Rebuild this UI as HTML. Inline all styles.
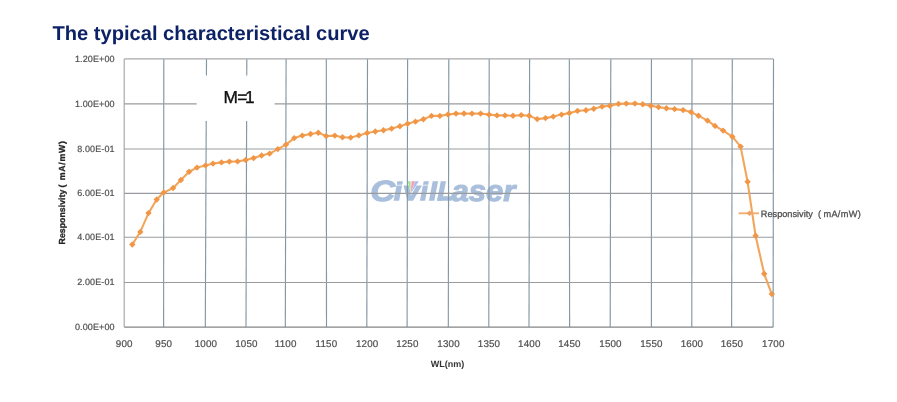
<!DOCTYPE html>
<html><head><meta charset="utf-8"><style>
html,body{margin:0;padding:0;background:#fff;}
body{width:897px;height:402px;overflow:hidden;position:relative;}
svg{position:absolute;left:0;top:0;font-family:"Liberation Sans",sans-serif;text-rendering:geometricPrecision;}
</style></head><body>
<svg width="897" height="402" viewBox="0 0 897 402">
<g style="mix-blend-mode:multiply"><text transform="translate(370.2,200.7) scale(1.17,1)" font-size="29.5" font-weight="bold" font-style="italic" fill="#a9bfdc" stroke="#a9bfdc" stroke-width="1.0">C</text><path d="M393.6,200.7 L399.1,200.7 L402.04,185.6 L396.54,185.6Z" fill="#a9bfdc"/><path d="M396.7,184.8 L402.2,184.8 L402.9,181.2 L397.4,181.2Z" fill="#a9bfdc"/><path d="M403.5,185.4 L409,185.4 L411,195.5 L416.5,185.4 L422,185.4 L413,200.7 L407.5,200.7Z" fill="#a9bfdc"/><path d="M407.7,181.2 L410.6,181.2 L410.6,193 Z" fill="#9fe39a"/><path d="M411.5,181.2 L415.2,181.2 L410.9,193 Z" fill="#f7a0a8"/><path d="M415.4,181.2 L418.8,181.2 L411.2,193 Z" fill="#a8b8f8"/><path d="M419.9,200.7 L425.1,200.7 L428.04,185.6 L422.84,185.6Z" fill="#a9bfdc"/><path d="M423.0,184.8 L428.2,184.8 L428.9,181.2 L423.7,181.2Z" fill="#a9bfdc"/><path d="M428.9,200.7 L434.3,200.7 L438.1,181.2 L432.7,181.2Z" fill="#a9bfdc"/><path d="M437.0,200.7 L442.2,200.7 L446.0,181.2 L440.8,181.2Z" fill="#a9bfdc"/><path d="M437.1,200.7 L451.6,200.7 L452.5,196.2 L438,196.2Z" fill="#a9bfdc"/><text transform="translate(451.5,200.7) scale(1.05,1)" font-size="29.5" font-weight="bold" font-style="italic" fill="#a9bfdc" stroke="#a9bfdc" stroke-width="1.1">aser</text></g>
<line x1="124.2" y1="58.9" x2="124.2" y2="327.1" stroke="#a3a6aa" stroke-width="1.15"/>
<line x1="163.8" y1="58.9" x2="163.6" y2="327.1" stroke="#8397a5" stroke-width="1.15"/>
<line x1="206.5" y1="58.9" x2="205.3" y2="327.1" stroke="#8397a5" stroke-width="1.15"/>
<line x1="246.8" y1="58.9" x2="246.0" y2="327.1" stroke="#8397a5" stroke-width="1.15"/>
<line x1="286.1" y1="58.9" x2="285.3" y2="327.1" stroke="#8397a5" stroke-width="1.15"/>
<line x1="326.3" y1="58.9" x2="326.5" y2="327.1" stroke="#8397a5" stroke-width="1.15"/>
<line x1="367.5" y1="58.9" x2="366.8" y2="327.1" stroke="#8397a5" stroke-width="1.15"/>
<line x1="407.6" y1="58.9" x2="407.1" y2="327.1" stroke="#8397a5" stroke-width="1.15"/>
<line x1="448.8" y1="58.9" x2="448.3" y2="327.1" stroke="#8397a5" stroke-width="1.15"/>
<line x1="489.2" y1="58.9" x2="488.8" y2="327.1" stroke="#8397a5" stroke-width="1.15"/>
<line x1="529.6" y1="58.9" x2="529.0" y2="327.1" stroke="#8397a5" stroke-width="1.15"/>
<line x1="569.3" y1="58.9" x2="569.6" y2="327.1" stroke="#8397a5" stroke-width="1.15"/>
<line x1="610.8" y1="58.9" x2="610.2" y2="327.1" stroke="#8397a5" stroke-width="1.15"/>
<line x1="651.4" y1="58.9" x2="651.4" y2="327.1" stroke="#8397a5" stroke-width="1.15"/>
<line x1="692.0" y1="58.9" x2="691.8" y2="327.1" stroke="#8397a5" stroke-width="1.15"/>
<line x1="732.3" y1="58.9" x2="731.6" y2="327.1" stroke="#8397a5" stroke-width="1.15"/>
<line x1="773.5" y1="58.9" x2="773.1" y2="327.1" stroke="#8397a5" stroke-width="1.15"/>
<line x1="124.2" y1="58.9" x2="773.3" y2="58.9" stroke="#a8a8a8" stroke-width="1.15"/>
<line x1="124.2" y1="103.8" x2="773.3" y2="103.8" stroke="#999b9e" stroke-width="1.15"/>
<line x1="124.2" y1="149.0" x2="773.3" y2="149.0" stroke="#999b9e" stroke-width="1.15"/>
<line x1="124.2" y1="193.4" x2="773.3" y2="193.4" stroke="#999b9e" stroke-width="1.15"/>
<line x1="124.2" y1="237.2" x2="773.3" y2="237.2" stroke="#999b9e" stroke-width="1.15"/>
<line x1="124.2" y1="282.5" x2="773.3" y2="282.5" stroke="#999b9e" stroke-width="1.15"/>
<line x1="124.2" y1="327.1" x2="773.3" y2="327.1" stroke="#858585" stroke-width="1.15"/>
<rect x="196.7" y="75.5" width="77.9" height="45.5" fill="#fff"/>
<text y="102.7" font-size="17.3" fill="#111" stroke="#111" stroke-width="0.35"><tspan x="223.6">M</tspan><tspan x="237.3">=</tspan><tspan x="244.9">1</tspan></text>
<path d="M132.3,244.5 L140.3,231.9 L148.5,213.1 L156.7,199.5 L163.7,192.6 L173.1,188 L180.9,180 L189.1,171.8 L197,167.6 L205.5,165.4 L213,163.6 L221.5,162.4 L229.4,161.6 L237.6,161.4 L245.7,160 L253.6,158.1 L261.6,155.5 L269.6,153.6 L277.8,149.1 L286,144.6 L294.2,138.1 L302.3,135.6 L310.5,134.0 L318.3,132.8 L326.2,136.0 L334.8,135.6 L342.5,137.3 L350.7,137.6 L358.8,135.4 L367.1,133.0 L375.3,131.5 L383.5,130.3 L391.6,128.6 L399.9,126.3 L407.6,123.7 L415.5,121.6 L423.4,119.2 L431.5,115.9 L439.9,115.9 L448,114.5 L456,113.6 L464,113.5 L472,113.6 L480.6,113.6 L489,114.6 L497,115.4 L505,115.4 L513,115.7 L521.2,115.1 L529.1,115.7 L537.2,119.1 L545.5,118.1 L553.3,116.6 L561.5,114.6 L569.4,113.1 L577.5,110.9 L586,110.2 L593.7,108.7 L602.1,106.6 L609.9,105.7 L618.5,103.9 L626.3,103.6 L634.9,103.6 L642.7,104.2 L650.8,105.7 L658.5,107.1 L666.4,108.2 L674.6,109.1 L683.1,110.1 L691,112.1 L698.5,115.7 L707.5,120.6 L715,125.9 L723.1,130.6 L732.4,136.7 L740.6,146.6 L747.6,181.8 L755.6,235.8 L764.2,273.8 L771.8,294.1" fill="none" stroke="#f2a65c" stroke-width="2.1" stroke-linejoin="round"/>
<path d="M129.10000000000002,244.5 L132.3,241.3 L135.5,244.5 L132.3,247.7Z" fill="#f09646"/>
<path d="M137.10000000000002,231.9 L140.3,228.70000000000002 L143.5,231.9 L140.3,235.1Z" fill="#f09646"/>
<path d="M145.3,213.1 L148.5,209.9 L151.7,213.1 L148.5,216.29999999999998Z" fill="#f09646"/>
<path d="M153.5,199.5 L156.7,196.3 L159.89999999999998,199.5 L156.7,202.7Z" fill="#f09646"/>
<path d="M160.5,192.6 L163.7,189.4 L166.89999999999998,192.6 L163.7,195.79999999999998Z" fill="#f09646"/>
<path d="M169.9,188 L173.1,184.8 L176.29999999999998,188 L173.1,191.2Z" fill="#f09646"/>
<path d="M177.70000000000002,180 L180.9,176.8 L184.1,180 L180.9,183.2Z" fill="#f09646"/>
<path d="M185.9,171.8 L189.1,168.60000000000002 L192.29999999999998,171.8 L189.1,175.0Z" fill="#f09646"/>
<path d="M193.8,167.6 L197,164.4 L200.2,167.6 L197,170.79999999999998Z" fill="#f09646"/>
<path d="M202.3,165.4 L205.5,162.20000000000002 L208.7,165.4 L205.5,168.6Z" fill="#f09646"/>
<path d="M209.8,163.6 L213,160.4 L216.2,163.6 L213,166.79999999999998Z" fill="#f09646"/>
<path d="M218.3,162.4 L221.5,159.20000000000002 L224.7,162.4 L221.5,165.6Z" fill="#f09646"/>
<path d="M226.20000000000002,161.6 L229.4,158.4 L232.6,161.6 L229.4,164.79999999999998Z" fill="#f09646"/>
<path d="M234.4,161.4 L237.6,158.20000000000002 L240.79999999999998,161.4 L237.6,164.6Z" fill="#f09646"/>
<path d="M242.5,160 L245.7,156.8 L248.89999999999998,160 L245.7,163.2Z" fill="#f09646"/>
<path d="M250.4,158.1 L253.6,154.9 L256.8,158.1 L253.6,161.29999999999998Z" fill="#f09646"/>
<path d="M258.40000000000003,155.5 L261.6,152.3 L264.8,155.5 L261.6,158.7Z" fill="#f09646"/>
<path d="M266.40000000000003,153.6 L269.6,150.4 L272.8,153.6 L269.6,156.79999999999998Z" fill="#f09646"/>
<path d="M274.6,149.1 L277.8,145.9 L281.0,149.1 L277.8,152.29999999999998Z" fill="#f09646"/>
<path d="M282.8,144.6 L286,141.4 L289.2,144.6 L286,147.79999999999998Z" fill="#f09646"/>
<path d="M291.0,138.1 L294.2,134.9 L297.4,138.1 L294.2,141.29999999999998Z" fill="#f09646"/>
<path d="M299.1,135.6 L302.3,132.4 L305.5,135.6 L302.3,138.79999999999998Z" fill="#f09646"/>
<path d="M307.3,134.0 L310.5,130.8 L313.7,134.0 L310.5,137.2Z" fill="#f09646"/>
<path d="M315.1,132.8 L318.3,129.60000000000002 L321.5,132.8 L318.3,136.0Z" fill="#f09646"/>
<path d="M323.0,136.0 L326.2,132.8 L329.4,136.0 L326.2,139.2Z" fill="#f09646"/>
<path d="M331.6,135.6 L334.8,132.4 L338.0,135.6 L334.8,138.79999999999998Z" fill="#f09646"/>
<path d="M339.3,137.3 L342.5,134.10000000000002 L345.7,137.3 L342.5,140.5Z" fill="#f09646"/>
<path d="M347.5,137.6 L350.7,134.4 L353.9,137.6 L350.7,140.79999999999998Z" fill="#f09646"/>
<path d="M355.6,135.4 L358.8,132.20000000000002 L362.0,135.4 L358.8,138.6Z" fill="#f09646"/>
<path d="M363.90000000000003,133.0 L367.1,129.8 L370.3,133.0 L367.1,136.2Z" fill="#f09646"/>
<path d="M372.1,131.5 L375.3,128.3 L378.5,131.5 L375.3,134.7Z" fill="#f09646"/>
<path d="M380.3,130.3 L383.5,127.10000000000001 L386.7,130.3 L383.5,133.5Z" fill="#f09646"/>
<path d="M388.40000000000003,128.6 L391.6,125.39999999999999 L394.8,128.6 L391.6,131.79999999999998Z" fill="#f09646"/>
<path d="M396.7,126.3 L399.9,123.1 L403.09999999999997,126.3 L399.9,129.5Z" fill="#f09646"/>
<path d="M404.40000000000003,123.7 L407.6,120.5 L410.8,123.7 L407.6,126.9Z" fill="#f09646"/>
<path d="M412.3,121.6 L415.5,118.39999999999999 L418.7,121.6 L415.5,124.8Z" fill="#f09646"/>
<path d="M420.2,119.2 L423.4,116.0 L426.59999999999997,119.2 L423.4,122.4Z" fill="#f09646"/>
<path d="M428.3,115.9 L431.5,112.7 L434.7,115.9 L431.5,119.10000000000001Z" fill="#f09646"/>
<path d="M436.7,115.9 L439.9,112.7 L443.09999999999997,115.9 L439.9,119.10000000000001Z" fill="#f09646"/>
<path d="M444.8,114.5 L448,111.3 L451.2,114.5 L448,117.7Z" fill="#f09646"/>
<path d="M452.8,113.6 L456,110.39999999999999 L459.2,113.6 L456,116.8Z" fill="#f09646"/>
<path d="M460.8,113.5 L464,110.3 L467.2,113.5 L464,116.7Z" fill="#f09646"/>
<path d="M468.8,113.6 L472,110.39999999999999 L475.2,113.6 L472,116.8Z" fill="#f09646"/>
<path d="M477.40000000000003,113.6 L480.6,110.39999999999999 L483.8,113.6 L480.6,116.8Z" fill="#f09646"/>
<path d="M485.8,114.6 L489,111.39999999999999 L492.2,114.6 L489,117.8Z" fill="#f09646"/>
<path d="M493.8,115.4 L497,112.2 L500.2,115.4 L497,118.60000000000001Z" fill="#f09646"/>
<path d="M501.8,115.4 L505,112.2 L508.2,115.4 L505,118.60000000000001Z" fill="#f09646"/>
<path d="M509.8,115.7 L513,112.5 L516.2,115.7 L513,118.9Z" fill="#f09646"/>
<path d="M518.0,115.1 L521.2,111.89999999999999 L524.4000000000001,115.1 L521.2,118.3Z" fill="#f09646"/>
<path d="M525.9,115.7 L529.1,112.5 L532.3000000000001,115.7 L529.1,118.9Z" fill="#f09646"/>
<path d="M534.0,119.1 L537.2,115.89999999999999 L540.4000000000001,119.1 L537.2,122.3Z" fill="#f09646"/>
<path d="M542.3,118.1 L545.5,114.89999999999999 L548.7,118.1 L545.5,121.3Z" fill="#f09646"/>
<path d="M550.0999999999999,116.6 L553.3,113.39999999999999 L556.5,116.6 L553.3,119.8Z" fill="#f09646"/>
<path d="M558.3,114.6 L561.5,111.39999999999999 L564.7,114.6 L561.5,117.8Z" fill="#f09646"/>
<path d="M566.1999999999999,113.1 L569.4,109.89999999999999 L572.6,113.1 L569.4,116.3Z" fill="#f09646"/>
<path d="M574.3,110.9 L577.5,107.7 L580.7,110.9 L577.5,114.10000000000001Z" fill="#f09646"/>
<path d="M582.8,110.2 L586,107.0 L589.2,110.2 L586,113.4Z" fill="#f09646"/>
<path d="M590.5,108.7 L593.7,105.5 L596.9000000000001,108.7 L593.7,111.9Z" fill="#f09646"/>
<path d="M598.9,106.6 L602.1,103.39999999999999 L605.3000000000001,106.6 L602.1,109.8Z" fill="#f09646"/>
<path d="M606.6999999999999,105.7 L609.9,102.5 L613.1,105.7 L609.9,108.9Z" fill="#f09646"/>
<path d="M615.3,103.9 L618.5,100.7 L621.7,103.9 L618.5,107.10000000000001Z" fill="#f09646"/>
<path d="M623.0999999999999,103.6 L626.3,100.39999999999999 L629.5,103.6 L626.3,106.8Z" fill="#f09646"/>
<path d="M631.6999999999999,103.6 L634.9,100.39999999999999 L638.1,103.6 L634.9,106.8Z" fill="#f09646"/>
<path d="M639.5,104.2 L642.7,101.0 L645.9000000000001,104.2 L642.7,107.4Z" fill="#f09646"/>
<path d="M647.5999999999999,105.7 L650.8,102.5 L654.0,105.7 L650.8,108.9Z" fill="#f09646"/>
<path d="M655.3,107.1 L658.5,103.89999999999999 L661.7,107.1 L658.5,110.3Z" fill="#f09646"/>
<path d="M663.1999999999999,108.2 L666.4,105.0 L669.6,108.2 L666.4,111.4Z" fill="#f09646"/>
<path d="M671.4,109.1 L674.6,105.89999999999999 L677.8000000000001,109.1 L674.6,112.3Z" fill="#f09646"/>
<path d="M679.9,110.1 L683.1,106.89999999999999 L686.3000000000001,110.1 L683.1,113.3Z" fill="#f09646"/>
<path d="M687.8,112.1 L691,108.89999999999999 L694.2,112.1 L691,115.3Z" fill="#f09646"/>
<path d="M695.3,115.7 L698.5,112.5 L701.7,115.7 L698.5,118.9Z" fill="#f09646"/>
<path d="M704.3,120.6 L707.5,117.39999999999999 L710.7,120.6 L707.5,123.8Z" fill="#f09646"/>
<path d="M711.8,125.9 L715,122.7 L718.2,125.9 L715,129.1Z" fill="#f09646"/>
<path d="M719.9,130.6 L723.1,127.39999999999999 L726.3000000000001,130.6 L723.1,133.79999999999998Z" fill="#f09646"/>
<path d="M729.1999999999999,136.7 L732.4,133.5 L735.6,136.7 L732.4,139.89999999999998Z" fill="#f09646"/>
<path d="M737.4,146.6 L740.6,143.4 L743.8000000000001,146.6 L740.6,149.79999999999998Z" fill="#f09646"/>
<path d="M744.4,181.8 L747.6,178.60000000000002 L750.8000000000001,181.8 L747.6,185.0Z" fill="#f09646"/>
<path d="M752.4,235.8 L755.6,232.60000000000002 L758.8000000000001,235.8 L755.6,239.0Z" fill="#f09646"/>
<path d="M761.0,273.8 L764.2,270.6 L767.4000000000001,273.8 L764.2,277.0Z" fill="#f09646"/>
<path d="M768.5999999999999,294.1 L771.8,290.90000000000003 L775.0,294.1 L771.8,297.3Z" fill="#f09646"/>
<line x1="738.5" y1="213.3" x2="759" y2="213.3" stroke="#f2aa6a" stroke-width="1.8"/>
<path d="M746.7,213.3 L749.5,210.5 L752.3,213.3 L749.5,216.10000000000002Z" fill="#f0a060"/>
<text y="216.5" font-size="9.2" fill="#4a4a4a" stroke="#4a4a4a" stroke-width="0.25"><tspan x="760.8">Responsivity</tspan><tspan x="817.9">(</tspan><tspan x="823.4" letter-spacing="0.35">mA/mW)</tspan></text>
<text x="114.6" y="61.699999999999996" font-size="9.0" letter-spacing="0.1" fill="#505050" stroke="#505050" stroke-width="0.2" text-anchor="end">1.20E+00</text>
<text x="114.6" y="106.6" font-size="9.0" letter-spacing="0.1" fill="#505050" stroke="#505050" stroke-width="0.2" text-anchor="end">1.00E+00</text>
<text x="114.6" y="151.8" font-size="9.0" letter-spacing="0.1" fill="#505050" stroke="#505050" stroke-width="0.2" text-anchor="end">8.00E-01</text>
<text x="114.6" y="196.20000000000002" font-size="9.0" letter-spacing="0.1" fill="#505050" stroke="#505050" stroke-width="0.2" text-anchor="end">6.00E-01</text>
<text x="114.6" y="240.0" font-size="9.0" letter-spacing="0.1" fill="#505050" stroke="#505050" stroke-width="0.2" text-anchor="end">4.00E-01</text>
<text x="114.6" y="285.3" font-size="9.0" letter-spacing="0.1" fill="#505050" stroke="#505050" stroke-width="0.2" text-anchor="end">2.00E-01</text>
<text x="114.6" y="329.90000000000003" font-size="9.0" letter-spacing="0.1" fill="#505050" stroke="#505050" stroke-width="0.2" text-anchor="end">0.00E+00</text>
<text x="124.2" y="347.1" font-size="9.8" letter-spacing="0.15" fill="#505050" stroke="#505050" stroke-width="0.22" text-anchor="middle">900</text>
<text x="163.7" y="347.1" font-size="9.8" letter-spacing="0.15" fill="#505050" stroke="#505050" stroke-width="0.22" text-anchor="middle">950</text>
<text x="205.9" y="347.1" font-size="9.8" letter-spacing="0.15" fill="#505050" stroke="#505050" stroke-width="0.22" text-anchor="middle">1000</text>
<text x="246.4" y="347.1" font-size="9.8" letter-spacing="0.15" fill="#505050" stroke="#505050" stroke-width="0.22" text-anchor="middle">1050</text>
<text x="285.70000000000005" y="347.1" font-size="9.8" letter-spacing="0.15" fill="#505050" stroke="#505050" stroke-width="0.22" text-anchor="middle">1100</text>
<text x="326.4" y="347.1" font-size="9.8" letter-spacing="0.15" fill="#505050" stroke="#505050" stroke-width="0.22" text-anchor="middle">1150</text>
<text x="367.15" y="347.1" font-size="9.8" letter-spacing="0.15" fill="#505050" stroke="#505050" stroke-width="0.22" text-anchor="middle">1200</text>
<text x="407.35" y="347.1" font-size="9.8" letter-spacing="0.15" fill="#505050" stroke="#505050" stroke-width="0.22" text-anchor="middle">1250</text>
<text x="448.55" y="347.1" font-size="9.8" letter-spacing="0.15" fill="#505050" stroke="#505050" stroke-width="0.22" text-anchor="middle">1300</text>
<text x="489.0" y="347.1" font-size="9.8" letter-spacing="0.15" fill="#505050" stroke="#505050" stroke-width="0.22" text-anchor="middle">1350</text>
<text x="529.3" y="347.1" font-size="9.8" letter-spacing="0.15" fill="#505050" stroke="#505050" stroke-width="0.22" text-anchor="middle">1400</text>
<text x="569.45" y="347.1" font-size="9.8" letter-spacing="0.15" fill="#505050" stroke="#505050" stroke-width="0.22" text-anchor="middle">1450</text>
<text x="610.5" y="347.1" font-size="9.8" letter-spacing="0.15" fill="#505050" stroke="#505050" stroke-width="0.22" text-anchor="middle">1500</text>
<text x="651.4" y="347.1" font-size="9.8" letter-spacing="0.15" fill="#505050" stroke="#505050" stroke-width="0.22" text-anchor="middle">1550</text>
<text x="691.9" y="347.1" font-size="9.8" letter-spacing="0.15" fill="#505050" stroke="#505050" stroke-width="0.22" text-anchor="middle">1600</text>
<text x="731.95" y="347.1" font-size="9.8" letter-spacing="0.15" fill="#505050" stroke="#505050" stroke-width="0.22" text-anchor="middle">1650</text>
<text x="773.3" y="347.1" font-size="9.8" letter-spacing="0.15" fill="#505050" stroke="#505050" stroke-width="0.22" text-anchor="middle">1700</text>
<text x="447.6" y="367" font-size="9" font-weight="bold" fill="#333" text-anchor="middle">WL(nm)</text>
<g transform="translate(65.3,244.4) rotate(-90)"><text y="0" font-size="8.8" font-weight="bold" fill="#262626" stroke="#262626" stroke-width="0.3"><tspan x="0">Responsivity</tspan><tspan x="57">(</tspan><tspan x="64.2" letter-spacing="0.7">mA/mW)</tspan></text></g>
<text x="52.5" y="39.8" font-size="20.1" font-weight="bold" fill="#0d2266">The typical characteristical curve</text>
</svg>
</body></html>
